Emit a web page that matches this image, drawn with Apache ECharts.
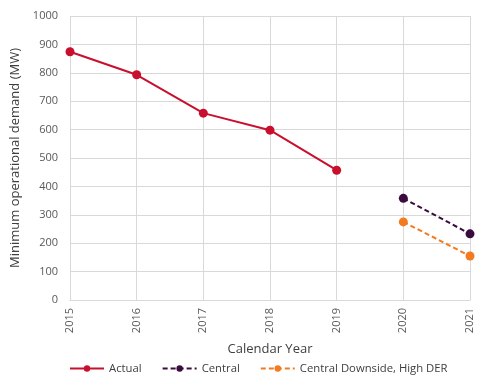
<!DOCTYPE html>
<html><head><meta charset="utf-8">
<script src="https://cdn.jsdelivr.net/npm/echarts@6/dist/echarts.min.js"></script>
<style>html,body{margin:0;padding:0;background:#fff}#c{width:488px;height:384px}</style>
</head><body><div id="c"></div>
<script>
const years = ['2015','2016','2017','2018','2019','2020','2021'];
const actual = [874, 793, 658, 598, 457, null, null];
const central = [null, null, null, null, null, 358, 233];
const downside = [null, null, null, null, null, 275, 155];
const yTicks = {min: 0, max: 1000, interval: 100};

const chart = echarts.init(document.getElementById('c'));
const font = '"Open Sans", "Noto Sans", sans-serif';
function ser(name, data, color, dashed) {
  return {
    name, type: 'line', data, connectNulls: false,
    symbol: 'circle', symbolSize: 9,
    itemStyle: {color},
    lineStyle: {color, width: 2, type: dashed ? [5, 3] : 'solid'},
    emphasis: {disabled: true}
  };
}
chart.setOption({
  animation: false,
  textStyle: {fontFamily: font},
  grid: {left: 70, right: 18, top: 16, bottom: 84},
  legend: {
    bottom: 5, left: 64, itemGap: 20, itemWidth: 34, itemHeight: 8,
    textStyle: {fontFamily: font, fontSize: 11.3, color: '#404040'},
    data: ['Actual', 'Central', 'Central Downside, High DER']
  },
  xAxis: {
    type: 'category', data: years, boundaryGap: false,
    name: 'Calendar Year', nameLocation: 'middle', nameGap: 43,
    nameTextStyle: {fontFamily: font, fontSize: 13, color: '#404040'},
    axisLine: {lineStyle: {color: '#d9d9d9'}},
    axisTick: {show: false},
    axisLabel: {rotate: 90, fontSize: 11, color: '#595959', margin: 8},
    splitLine: {show: true, lineStyle: {color: '#d9d9d9'}}
  },
  yAxis: {
    type: 'value', min: yTicks.min, max: yTicks.max, interval: yTicks.interval,
    name: 'Minimum operational demand (MW)', nameLocation: 'middle', nameGap: 41,
    nameTextStyle: {fontFamily: font, fontSize: 13, color: '#404040'},
    axisLine: {show: false}, axisTick: {show: false},
    axisLabel: {fontSize: 11, color: '#595959', margin: 12, formatter: v => String(v)},
    splitLine: {lineStyle: {color: '#d9d9d9'}}
  },
  series: [
    ser('Actual', actual, '#C8102E', false),
    ser('Central', central, '#3B0A3F', true),
    ser('Central Downside, High DER', downside, '#F37A1F', true)
  ]
});
</script></body></html>
